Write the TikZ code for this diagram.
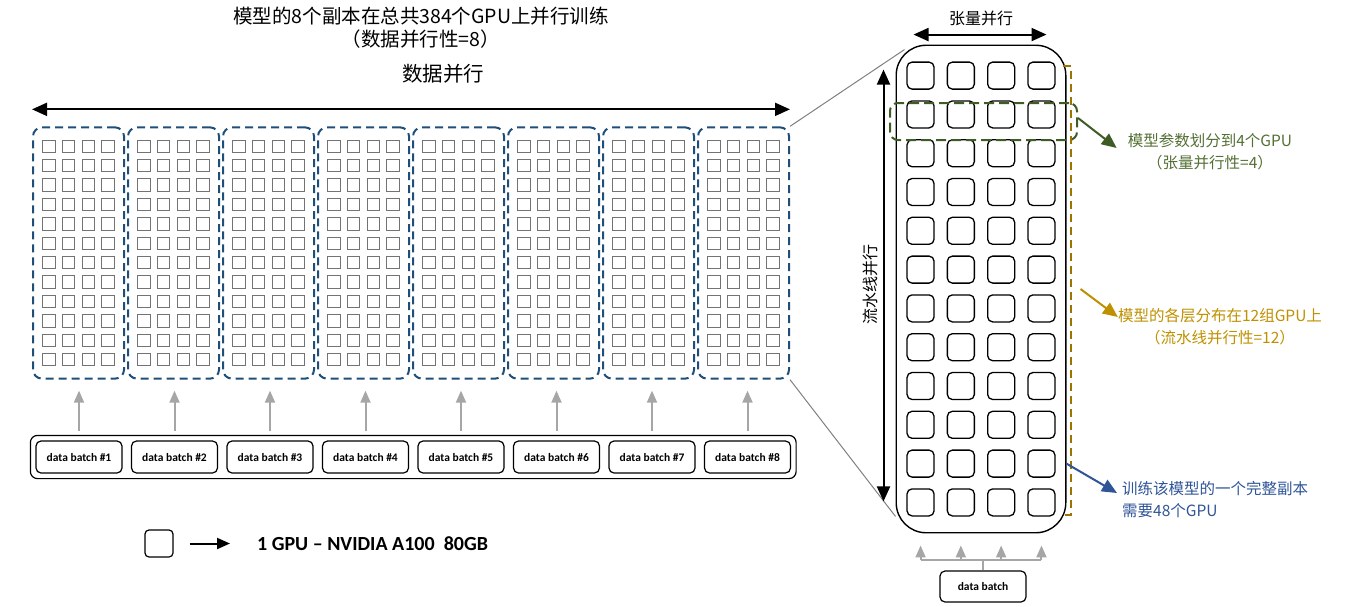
\documentclass[tikz,border=0pt]{standalone}
\usepackage{fontspec}
\newfontfamily\cjk{Noto Sans CJK SC}
\newfontfamily\cali{Carlito}
\usepackage{tikz}
\usetikzlibrary{matrix,arrows.meta,fit}
\definecolor{dashblue}{RGB}{31,78,121}
\definecolor{feedgray}{RGB}{166,166,166}
\definecolor{tpgreen}{RGB}{62,92,36}
\definecolor{tptext}{RGB}{84,112,52}
\definecolor{ppline}{RGB}{156,117,0}
\definecolor{pptext}{RGB}{191,144,0}
\definecolor{dpblue}{RGB}{47,85,151}
\tikzset{
  gpu/.style={draw=black!55, line width=1pt, minimum size=12.5pt, inner sep=0pt},
  biggpu/.style={draw=black, line width=1.3pt, rounded corners=5pt, minimum size=27pt, inner sep=0pt},
  replica/.style={draw=dashblue, line width=2pt, dash pattern=on 8pt off 5pt, rounded corners=9pt, inner xsep=9pt, inner ysep=12pt},
  batch/.style={draw, line width=1.2pt, rounded corners=5pt, minimum width=86pt, minimum height=32pt, inner sep=0pt, font=\cali\bfseries\fontsize{11.5}{12}\selectfont},
  feed/.style={draw=feedgray, line width=2pt, -{Triangle[length=12pt,width=10pt]}},
  feedline/.style={draw=feedgray, line width=2pt},
  wide/.style={line width=2pt, {Triangle[length=15pt,width=13pt]}-{Triangle[length=15pt,width=13pt]}},
  zoomline/.style={draw=black!50, line width=1pt},
  note/.style={inner sep=0pt, font=\cjk\fontsize{15.5}{22}\selectfont},
  tparrow/.style={draw=tpgreen, line width=2pt, -{Triangle[length=15pt,width=13pt]}},
  pparrow/.style={draw=pptext, line width=2pt, -{Triangle[length=15pt,width=13pt]}},
  dparrow/.style={draw=dpblue, line width=2pt, -{Triangle[length=15pt,width=13pt]}}
}
\begin{document}
\begin{tikzpicture}[x=1pt, y=-1pt]
  \useasboundingbox (0,0) rectangle (1350,606);
  \node[align=center, font=\cjk\fontsize{19.5}{23}\selectfont] (title) at (421,28) {模型的8个副本在总共384个GPU上并行训练\\（数据并行性=8）};
  \node[font=\cjk\fontsize{20.5}{24}\selectfont] (dplabel) at (443,74) {数据并行};

  \foreach \g in {1,...,8}{
    \matrix[matrix of nodes, nodes in empty cells, ampersand replacement=\&, nodes={gpu}, column sep=6.2pt, row sep=5.9pt, inner sep=0pt] (m\g) at (78.5+95*\g-95,253)
    {
      \&\&\& \\ \&\&\& \\ \&\&\& \\ \&\&\& \\ \&\&\& \\ \&\&\& \\
      \&\&\& \\ \&\&\& \\ \&\&\& \\ \&\&\& \\ \&\&\& \\ \&\&\& \\
    };
    \node[replica, fit=(m\g)] (g\g) {};
    \node[batch] (b\g) at (79+95.5*\g-95.5,457) {data batch \#\g};
  }
  \node[draw, line width=1.2pt, rounded corners=7pt, fit=(b1)(b8), inner sep=5pt] (bb) {};
  \foreach \g in {1,...,8}
    \draw[feed] ([yshift=4pt]bb.north -| b\g) -- ([yshift=-11pt]g\g.south -| b\g);
  \draw[wide] ([yshift=17pt]g1.north west) -- ([yshift=17pt]g8.north east);

  \node[draw, line width=1.2pt, rounded corners=4pt, minimum width=28pt, minimum height=27pt] (leg) at (159,543.5) {};
  \node[anchor=west, inner sep=0pt, font=\cali\bfseries\fontsize{20}{24}\selectfont] (legtext) at (257,543.5) {1 GPU – NVIDIA A100~~80GB};
  \draw[line width=2pt, -{Triangle[length=13pt,width=11pt]}] ([xshift=16pt]leg.east) -- ([xshift=-27pt]legtext.west);

  \matrix[matrix of nodes, nodes in empty cells, ampersand replacement=\&, nodes={biggpu}, column sep=12pt, row sep=10.5pt, inner sep=0pt] (mb) at (981,289)
  {
    \&\&\& \\ \&\&\& \\ \&\&\& \\ \&\&\& \\ \&\&\& \\ \&\&\& \\
    \&\&\& \\ \&\&\& \\ \&\&\& \\ \&\&\& \\ \&\&\& \\ \&\&\& \\
  };
  \node[draw, line width=1.4pt, rounded corners=30pt, fit=(mb), inner xsep=10pt, inner ysep=16pt] (big) {};
  \node[draw=tpgreen, line width=2pt, dash pattern=on 10pt off 5pt, rounded corners=8pt, minimum width=187pt, minimum height=37pt] (tp) at (983.5,121.5) {};
  \draw[draw=ppline, line width=2pt, dash pattern=on 8pt off 5pt] (1063,66) -| (1071,515) -- (1063,515);

  \draw[zoomline] (g8.north east) -- ([xshift=9pt,yshift=-5pt]big.north west);
  \draw[zoomline] (g8.south east) -- ([yshift=17pt]big.south west);

  \node[font=\cjk\fontsize{16}{20}\selectfont] (tplabel) at (981,18) {张量并行};
  \draw[wide] ([xshift=18pt,yshift=10pt]big.north west) -- ([xshift=-20pt,yshift=10pt]big.north east);
  \node[rotate=90, font=\cjk\fontsize{16}{20}\selectfont] (pplabel) at (870,284) {流水线并行};
  \draw[wide] ([xshift=-12pt,yshift=-25pt]big.north west) -- ([xshift=-12pt,yshift=32pt]big.south west);

  \node[note, text=tptext, align=center] (tptext) at (1210,152) {模型参数划分到4个GPU\\（张量并行性=4）};
  \node[note, text=pptext, align=center] (pptext) at (1220,327) {模型的各层分布在12组GPU上\\（流水线并行性=12）};
  \node[note, text=dpblue, align=left, anchor=west] (dptext) at (1122,500) {训练该模型的一个完整副本\\需要48个GPU};
  \draw[tparrow] ([yshift=3.5pt]tp.east) -- ([xshift=-11pt,yshift=4pt]tptext.west);
  \draw[pparrow] ([xshift=14pt]big.east) -- ([yshift=10pt]pptext.west);
  \draw[dparrow] (big.east |- mb-11-4) -- ([xshift=-5pt,yshift=7pt]dptext.west);

  \node[draw, line width=1.2pt, rounded corners=5pt, minimum width=86pt, minimum height=31pt, font=\cali\bfseries\fontsize{11.5}{12}\selectfont] (db) at (983,586.5) {data batch};
  \coordinate (fork) at (983,560);
  \draw[feedline] (db.north) -- (fork);
  \draw[feedline] (mb-12-1 |- fork) -- (mb-12-4 |- fork);
  \foreach \c in {1,...,4}
    \draw[feed] (mb-12-\c |- fork) -- ([yshift=-12pt]mb-12-\c |- big.south);
\end{tikzpicture}
\end{document}
